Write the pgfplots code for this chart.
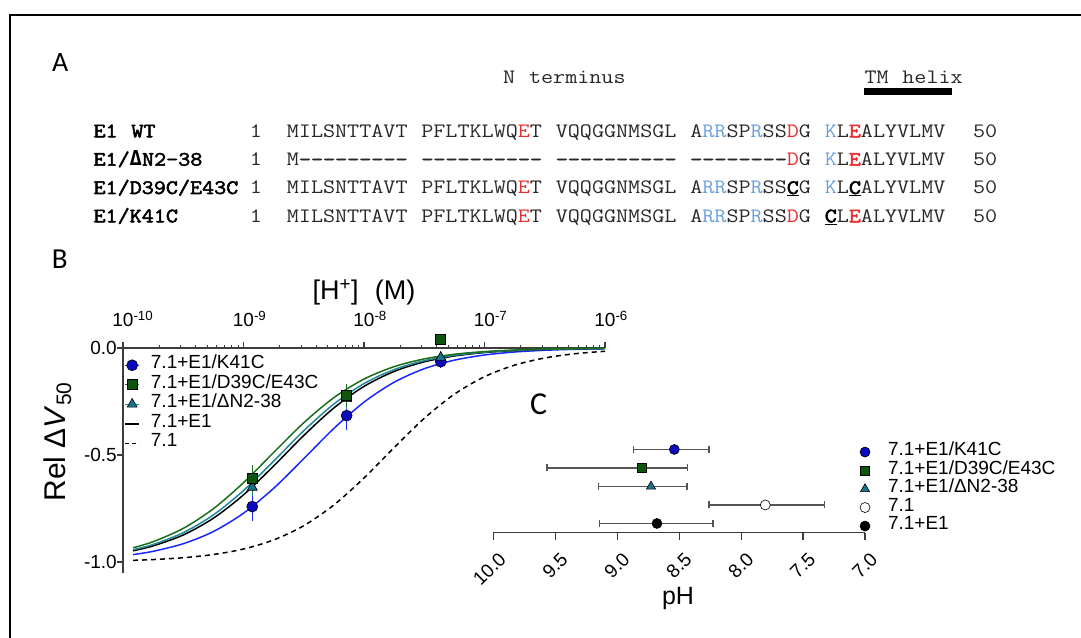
\documentclass[border=0pt]{standalone}
\usepackage{fontspec}
\setmainfont{Liberation Sans}
\newfontfamily\monof[FakeStretch=1.143, WordSpace={1.143,0,0}, BoldFont={Latin Modern Mono}, BoldFeatures={FakeBold=2.5}]{Latin Modern Mono}
\newfontfamily\dvmono{DejaVu Sans Mono}
\newfontfamily\calf{Carlito}
\usepackage{pgfplots}
\pgfplotsset{compat=1.18}
\definecolor{seqred}{RGB}{232,48,48}
\definecolor{seqblue}{RGB}{105,160,220}
\definecolor{seqgray}{RGB}{40,40,40}
\definecolor{cblue}{RGB}{25,40,255}
\definecolor{mblue}{RGB}{10,10,190}
\definecolor{cgreen}{RGB}{25,110,25}
\definecolor{mgreen}{RGB}{15,85,15}
\definecolor{cteal}{RGB}{35,135,155}
\definecolor{mteal}{RGB}{25,115,135}
\definecolor{axgray}{RGB}{60,60,60}
\definecolor{ebgray}{RGB}{85,85,85}
\newcommand\R[1]{{\color{seqred}#1}}
\newcommand\RB[1]{{\color{seqred}\bfseries #1}}
\newcommand\B[1]{{\color{seqblue}#1}}
\newcommand\U[1]{{\color{black}\bfseries\underline{#1}}}
\newcommand\dten{{\bfseries -{}-{}-{}-{}-{}-{}-{}-{}-{}-}}
\newcommand\dnine{{\bfseries -{}-{}-{}-{}-{}-{}-{}-{}-}}
\newcommand\deight{{\bfseries -{}-{}-{}-{}-{}-{}-{}-}}
\newcommand\seqfont{\monof\fontsize{20.5}{24}\selectfont}
\newcommand\tfs{\fontsize{19}{19}\selectfont}
\begin{document}
\begin{tikzpicture}[x=1pt,y=1pt]
\useasboundingbox (0,0) rectangle (1081,637);
\draw[line width=1.3pt] (10,-5) -- (10,622) -- (1090,622);
% ---------- Panel A ----------
\node[anchor=base west, inner sep=0pt, font=\calf\fontsize{28}{28}\selectfont] at (52,565.3) {A};
\begin{scope}[every node/.style={inner sep=0pt, anchor=base west, font=\seqfont}]
\node[text=seqgray] at (503,553.7) {N terminus};
\node[text=seqgray] at (864.3,553.7) {TM helix};
\node at (93.3,499.7) {\bfseries E1 WT};
\node at (93.3,471.3) {\bfseries E1/{\dvmono\bfseries Δ}N2-38};
\node at (93.3,443.0) {\bfseries E1/D39C/E43C};
\node at (93.3,414.7) {\bfseries E1/K41C};
\node[anchor=base, text=seqgray] at (256,499.7) {1};
\node[anchor=base, text=seqgray] at (256,471.3) {1};
\node[anchor=base, text=seqgray] at (256,443.0) {1};
\node[anchor=base, text=seqgray] at (256,414.7) {1};
\node at (286.7,499.7) {\color{seqgray}MILSNTTAVT PFLTKLWQ\R{E}T VQQGGNMSGL A\B{RR}SP\B{R}SS\R{D}G \B{K}L\RB{E}ALYVLMV\ \ 50};
\node at (286.7,471.3) {\color{seqgray}M\dnine{} \dten{} \dten{} \deight\R{D}G \B{K}L\RB{E}ALYVLMV\ \ 50};
\node at (286.7,443.0) {\color{seqgray}MILSNTTAVT PFLTKLWQ\R{E}T VQQGGNMSGL A\B{RR}SP\B{R}SS\U{C}G \B{K}L\U{C}ALYVLMV\ \ 50};
\node at (286.7,414.7) {\color{seqgray}MILSNTTAVT PFLTKLWQ\R{E}T VQQGGNMSGL A\B{RR}SP\B{R}SS\R{D}G \U{C}L\RB{E}ALYVLMV\ \ 50};
\end{scope}
\fill (864.3,542) rectangle (951.7,548.7);
% ---------- Panel B ----------
\node[anchor=base west, inner sep=0pt, font=\calf\fontsize{29}{29}\selectfont] at (51.7,368.7) {B};
\node[anchor=base, inner sep=0pt, font=\fontsize{27}{27}\selectfont] at (364,337) {[H\textsuperscript{+}]\hspace{0.6em}(M)};
\node[anchor=base west, rotate=90, inner sep=0pt, font=\fontsize{30}{30}\selectfont] at (65,135.3) {Rel Δ\textit{V}\textsubscript{50}};
\begin{axis}[
  at={(123pt,64.3pt)}, anchor=south west, scale only axis,
  width=482pt, height=224.7pt,
  xmode=log, xmin=1e-10, xmax=1e-6, ymin=-1.05, ymax=0,
  axis x line=top, axis y line=left,
  every outer x axis line/.append style={-},
  every outer y axis line/.append style={-},
  axis line style={-, line width=1.5pt, axgray},
  clip=false,
  xtick={1e-10,1e-9,1e-8,1e-7,1e-6},
  minor xtick={2e-10,3e-10,4e-10,5e-10,6e-10,7e-10,8e-10,9e-10,2e-9,3e-9,4e-9,5e-9,6e-9,7e-9,8e-9,9e-9,2e-8,3e-8,4e-8,5e-8,6e-8,7e-8,8e-8,9e-8,2e-7,3e-7,4e-7,5e-7,6e-7,7e-7,8e-7,9e-7},
  xticklabels={10\rlap{\textsuperscript{-10}},10\rlap{\textsuperscript{-9}},10\rlap{\textsuperscript{-8}},10\rlap{\textsuperscript{-7}},10\rlap{\textsuperscript{-6}}},
  ytick={-1,-0.5,0}, yticklabels={-1.0,-0.5,0.0},
  tick align=outside, major tick length=6pt, minor tick length=3pt,
  every tick/.style={axgray, line width=1.2pt},
  every minor tick/.style={axgray, line width=0.9pt},
  xticklabel style={anchor=base, inner sep=0pt, yshift=15pt},
  yticklabel style={inner sep=0pt},
  every tick label/.append style={font=\tfs},
  legend style={at={(axis description cs:0.003,0.9666)}, anchor=north west, draw=none, fill=none,
    inner sep=0pt, outer sep=0pt, row sep=0pt, column sep=11pt, font=\tfs,
    nodes={inner sep=0pt, text height=13pt, text depth=6.5pt}},
  legend cell align=left,
  legend image code/.code={\draw[#1, mark repeat=2, mark phase=2] plot coordinates {(0pt,0pt) (7pt,0pt) (14pt,0pt)};},
]
\addlegendimage{cblue, line width=1.3pt, mark=*, mark size=5.5pt, mark options={fill=mblue, draw=black, line width=0.6pt, solid}}
\addlegendimage{cgreen, line width=1.3pt, mark=square*, mark size=5pt, mark options={fill=mgreen, draw=black, line width=0.6pt, solid}}
\addlegendimage{cteal, line width=1.3pt, mark=triangle*, mark size=5.8pt, mark options={fill=mteal, draw=black, line width=0.6pt, solid}}
\addlegendimage{black, line width=1.5pt}
\addlegendimage{black, line width=1.5pt, dash pattern=on 4pt off 3pt}
\legend{7.1+E1/K41C,7.1+E1/D39C/E43C,7.1+E1/ΔN2-38,7.1+E1,7.1}
% fitted curves
\addplot[forget plot, black, line width=1.5pt, dash pattern=on 5pt off 4pt, smooth] coordinates {(1.211e-10,-0.9922) (1.778e-10,-0.9887) (3.162e-10,-0.9800) (5.623e-10,-0.9650) (1e-9,-0.9393) (1.778e-9,-0.8970) (3.162e-9,-0.8304) (5.623e-9,-0.7336) (1e-8,-0.6076) (1.778e-8,-0.4655) (3.162e-8,-0.3287) (5.623e-8,-0.2159) (1e-7,-0.1341) (1.778e-7,-0.0801) (3.162e-7,-0.0467) (5.623e-7,-0.0268) (1e-6,-0.0153)};
\addplot[forget plot, cblue, line width=1.5pt, smooth] coordinates {(1.211e-10,-0.9655) (1.778e-10,-0.9501) (3.162e-10,-0.9146) (5.623e-10,-0.8577) (1e-9,-0.7721) (1.778e-9,-0.6558) (3.162e-9,-0.5173) (5.623e-9,-0.3760) (1e-8,-0.2531) (1.778e-8,-0.1601) (3.162e-8,-0.0968) (5.623e-8,-0.0568) (1e-7,-0.0328) (1.778e-7,-0.0187) (3.162e-7,-0.0106) (5.623e-7,-0.0060) (1e-6,-0.0034)};
\addplot[forget plot, black, line width=1.5pt, smooth] coordinates {(1.211e-10,-0.9476) (1.778e-10,-0.9248) (3.162e-10,-0.8737) (5.623e-10,-0.7955) (1e-9,-0.6863) (1.778e-9,-0.5516) (3.162e-9,-0.4089) (5.623e-9,-0.2801) (1e-8,-0.1795) (1.778e-8,-0.1096) (3.162e-8,-0.0647) (5.623e-8,-0.0374) (1e-7,-0.0214) (1.778e-7,-0.0122) (3.162e-7,-0.0069) (5.623e-7,-0.0039) (1e-6,-0.0022)};
\addplot[forget plot, cteal, line width=1.5pt, smooth] coordinates {(1.211e-10,-0.9428) (1.778e-10,-0.9182) (3.162e-10,-0.8632) (5.623e-10,-0.7801) (1e-9,-0.6662) (1.778e-9,-0.5288) (3.162e-9,-0.3869) (5.623e-9,-0.2619) (1e-8,-0.1663) (1.778e-8,-0.1009) (3.162e-8,-0.0594) (5.623e-8,-0.0343) (1e-7,-0.0196) (1.778e-7,-0.0111) (3.162e-7,-0.0063) (5.623e-7,-0.0035) (1e-6,-0.0020)};
\addplot[forget plot, cgreen, line width=1.5pt, smooth] coordinates {(1.211e-10,-0.9335) (1.778e-10,-0.9052) (3.162e-10,-0.8430) (5.623e-10,-0.7512) (1e-9,-0.6294) (1.778e-9,-0.4885) (3.162e-9,-0.3494) (5.623e-9,-0.2320) (1e-8,-0.1452) (1.778e-8,-0.0872) (3.162e-8,-0.0510) (5.623e-8,-0.0293) (1e-7,-0.0167) (1.778e-7,-0.0095) (3.162e-7,-0.0053) (5.623e-7,-0.0030) (1e-6,-0.0017)};
% data points
\addplot[forget plot, only marks, mark=*, mark size=5.5pt, mark options={fill=mblue, draw=black, line width=0.6pt},
  error bars/.cd, y dir=both, y explicit, error bar style={cblue, line width=1.3pt}, error mark options={mark size=4pt, cblue, line width=1.3pt}]
  coordinates {(1.183e-9,-0.741) +- (0,0.047) (7.178e-9,-0.316) +- (0,0.049) (4.335e-8,-0.064) +- (0,0.01)};
\addplot[forget plot, only marks, mark=triangle*, mark size=5.8pt, mark options={fill=mteal, draw=black, line width=0.6pt},
  error bars/.cd, y dir=both, y explicit, error bar style={cteal, line width=1.3pt}, error mark options={mark size=4pt, cteal, line width=1.3pt}]
  coordinates {(1.183e-9,-0.651) +- (0,0.02) (7.178e-9,-0.237) +- (0,0.03) (4.335e-8,-0.044) +- (0,0.01)};
\addplot[forget plot, only marks, mark=square*, mark size=5pt, mark options={fill=mgreen, draw=black, line width=0.6pt},
  error bars/.cd, y dir=both, y explicit, error bar style={cgreen, line width=1.3pt}, error mark options={mark size=4pt, cgreen, line width=1.3pt}]
  coordinates {(1.183e-9,-0.609) +- (0,0.044) (7.178e-9,-0.223) +- (0,0.035) (4.335e-8,0.042) +- (0,0.0)};
\end{axis}
% ---------- Panel C ----------
\node[anchor=base west, inner sep=0pt, font=\calf\fontsize{32}{32}\selectfont] at (530,222) {C};
\node[anchor=base, inner sep=0pt, font=\fontsize{25}{25}\selectfont] at (678,33) {pH};
\begin{axis}[
  at={(493.3pt,104.3pt)}, anchor=south west, scale only axis,
  width=371.7pt, height=92.5pt,
  xmin=7, xmax=10, x dir=reverse, ymin=0.5, ymax=5.5,
  axis x line=bottom, axis y line=none,
  every outer x axis line/.append style={-},
  axis line style={-, line width=1.3pt, axgray},
  clip=false,
  xtick={7,7.5,8,8.5,9,9.5,10}, xticklabels={7.0,7.5,8.0,8.5,9.0,9.5,10.0},
  tick align=outside, major tick length=7pt,
  every tick/.style={axgray, line width=1.2pt},
  xticklabel style={rotate=45, anchor=east, inner sep=0pt, font=\tfs, xshift=-5pt, yshift=-18pt},
  legend style={at={(axis description cs:0.9866,0.972)}, anchor=north west, draw=none, fill=none,
    inner sep=0pt, outer sep=0pt, row sep=0pt, column sep=18pt, font=\tfs,
    nodes={inner sep=0pt, text height=13pt, text depth=5.5pt}},
  legend cell align=left,
  legend image code/.code={\draw[#1] plot coordinates {(0pt,0pt)};},
  error bars/error bar style={ebgray, line width=1.3pt},
  error bars/error mark options={rotate=90, ebgray, mark size=3.5pt, line width=1.3pt},
]
\addplot[only marks, mark=*, mark size=5pt, mark options={fill=mblue, draw=black, line width=0.6pt},
  error bars/.cd, x dir=both, x explicit] coordinates {(8.539,5) += (0.329,0) -= (0.280,0)};
\addlegendentry{7.1+E1/K41C}
\addplot[only marks, mark=square*, mark size=4.6pt, mark options={fill=mgreen, draw=black, line width=0.6pt},
  error bars/.cd, x dir=both, x explicit] coordinates {(8.800,4) += (0.767,0) -= (0.368,0)};
\addlegendentry{7.1+E1/D39C/E43C}
\addplot[only marks, mark=triangle*, mark size=5.3pt, mark options={fill=mteal, draw=black, line width=0.6pt},
  error bars/.cd, x dir=both, x explicit] coordinates {(8.727,3) += (0.423,0) -= (0.290,0)};
\addlegendentry{7.1+E1/ΔN2-38}
\addplot[only marks, mark=*, mark size=5pt, mark options={fill=white, draw=black, line width=0.6pt},
  error bars/.cd, x dir=both, x explicit] coordinates {(7.805,2) += (0.454,0) -= (0.476,0)};
\addlegendentry{7.1}
\addplot[only marks, mark=*, mark size=5pt, mark options={fill=black, draw=black, line width=0.6pt},
  error bars/.cd, x dir=both, x explicit] coordinates {(8.679,1) += (0.466,0) -= (0.452,0)};
\addlegendentry{7.1+E1}
\end{axis}
\end{tikzpicture}
\end{document}
